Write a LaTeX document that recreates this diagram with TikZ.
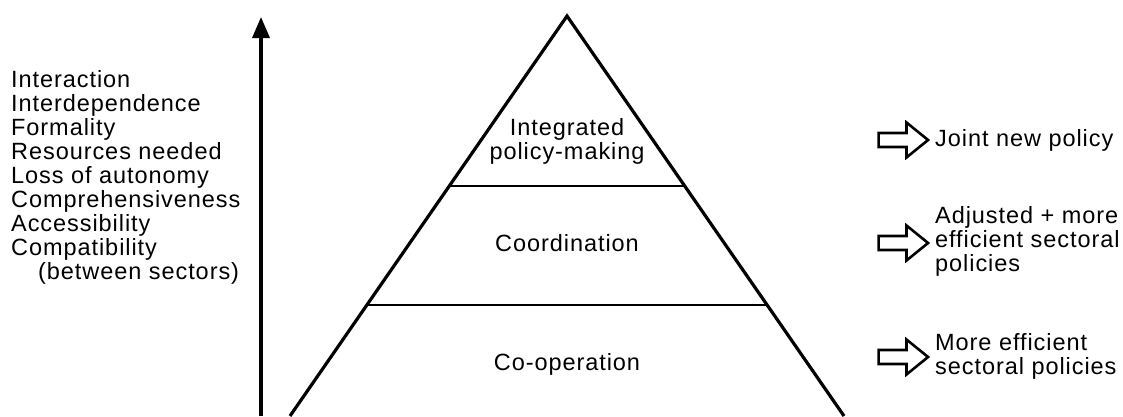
\documentclass[tikz,border=0pt]{standalone}
\usepackage{fontspec}
\setmainfont{Liberation Sans}[LetterSpace=4.0]
\usetikzlibrary{shapes.arrows,arrows.meta,positioning,calc}

\tikzset{
  txt/.style={inner sep=0pt, align=left},
  outcome/.style={single arrow, draw, line width=2.6, inner sep=5.7,
    minimum height=49.5, single arrow head extend=10.5, single arrow tip angle=78}
}

\begin{document}
\begin{tikzpicture}[x=1pt,y=-1pt, font=\fontsize{23.5}{24}\selectfont]
\useasboundingbox (0,0) rectangle (1123,416);
% pyramid
\coordinate (apex) at (567,16);
\coordinate (baseL) at (290,416);
\coordinate (baseR) at (844,416);
\draw[line width=3.2] (baseL) -- (apex) -- (baseR);
\draw[line width=2] ($(apex)!0.425!(baseL)$) -- ($(apex)!0.425!(baseR)$);
\draw[line width=2] ($(apex)!0.7225!(baseL)$) -- ($(apex)!0.7225!(baseR)$);
\node[align=center, inner sep=0pt] (integ) at (567,141) {Integrated\\policy-making};
\node[inner sep=0pt] (coord) at (567,243) {Coordination};
\node[inner sep=0pt] (coop) at (567,364) {Co-operation};
% axis
\coordinate (axisbot) at (261,416);
\coordinate (axistop) at (261,17);
\draw[line width=3.5, -{Triangle[width=17,length=21]}] (axisbot) -- (axistop);
\node[txt, anchor=north west] (criteria) at (11,70) {Interaction\\Interdependence\\Formality\\Resources needed\\Loss of autonomy\\Comprehensiveness\\Accessibility\\Compatibility\\\hspace*{27pt}(between sectors)};
% outcomes
\node[outcome] (arr1) at (899,140) {};
\node[txt, anchor=west] (out1) at (935,140) {Joint new policy};
\node[outcome] (arr2) at (899,243) {};
\node[txt, anchor=west] (out2) at (935,241) {Adjusted + more\\efficient sectoral\\policies};
\node[outcome] (arr3) at (899,357) {};
\node[txt, anchor=west] (out3) at (935,356) {More efficient\\sectoral policies};
\end{tikzpicture}
\end{document}
